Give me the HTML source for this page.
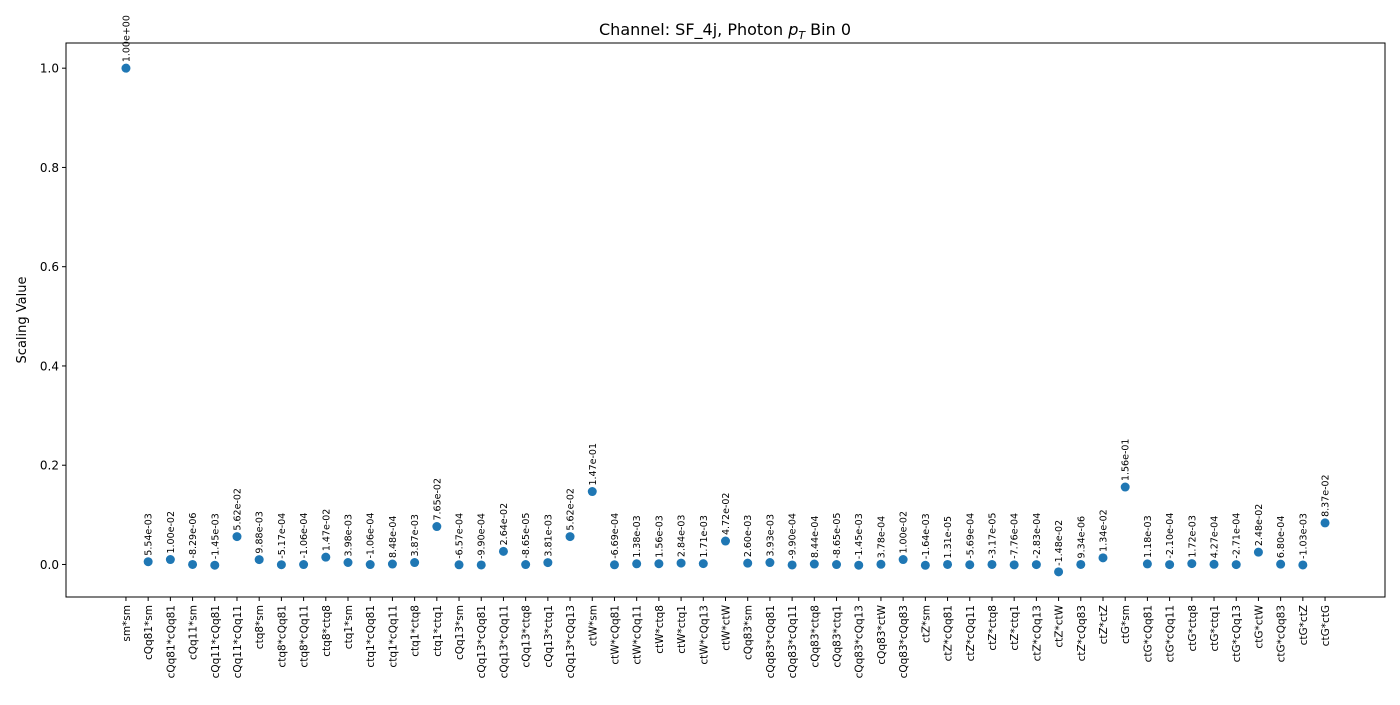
<!DOCTYPE html>
<html><head><meta charset="utf-8"><style>
body{margin:0;background:#fff;font-family:"Liberation Sans","DejaVu Sans",sans-serif;}
svg text{font-family:"DejaVu Sans","Liberation Sans",sans-serif;}
</style></head><body>
<svg id="chart" width="1400" height="700">
<rect width="1400" height="700" fill="#fff"/>
<text x="725" y="35" font-size="16" text-anchor="middle">Channel: SF_4j, Photon <tspan font-style="italic">p</tspan><tspan font-size="11" dy="4" font-style="italic">T</tspan><tspan dy="-4"> Bin 0</tspan></text>
<g id="yaxis"></g><g id="xaxis"></g><g id="points"></g>
<rect x="66" y="43" width="1319" height="554" fill="none" stroke="#000" stroke-width="1"/>
<text transform="translate(26,320) rotate(-90)" font-size="13" text-anchor="middle">Scaling Value</text>
</svg>
<script>
const categories=["sm*sm","cQq81*sm","cQq81*cQq81","cQq11*sm","cQq11*cQq81","cQq11*cQq11","ctq8*sm","ctq8*cQq81","ctq8*cQq11","ctq8*ctq8","ctq1*sm","ctq1*cQq81","ctq1*cQq11","ctq1*ctq8","ctq1*ctq1","cQq13*sm","cQq13*cQq81","cQq13*cQq11","cQq13*ctq8","cQq13*ctq1","cQq13*cQq13","ctW*sm","ctW*cQq81","ctW*cQq11","ctW*ctq8","ctW*ctq1","ctW*cQq13","ctW*ctW","cQq83*sm","cQq83*cQq81","cQq83*cQq11","cQq83*ctq8","cQq83*ctq1","cQq83*cQq13","cQq83*ctW","cQq83*cQq83","ctZ*sm","ctZ*cQq81","ctZ*cQq11","ctZ*ctq8","ctZ*ctq1","ctZ*cQq13","ctZ*ctW","ctZ*cQq83","ctZ*ctZ","ctG*sm","ctG*cQq81","ctG*cQq11","ctG*ctq8","ctG*ctq1","ctG*cQq13","ctG*ctW","ctG*cQq83","ctG*ctZ","ctG*ctG"];
const values=[1.00e+00,5.54e-03,1.00e-02,-8.29e-06,-1.45e-03,5.62e-02,9.88e-03,-5.17e-04,-1.06e-04,1.47e-02,3.98e-03,-1.06e-04,8.48e-04,3.87e-03,7.65e-02,-6.57e-04,-9.90e-04,2.64e-02,-8.65e-05,3.81e-03,5.62e-02,1.47e-01,-6.69e-04,1.38e-03,1.56e-03,2.84e-03,1.71e-03,4.72e-02,2.60e-03,3.93e-03,-9.90e-04,8.44e-04,-8.65e-05,-1.45e-03,3.78e-04,1.00e-02,-1.64e-03,1.31e-05,-5.69e-04,-3.17e-05,-7.76e-04,-2.83e-04,-1.48e-02,9.34e-06,1.34e-02,1.56e-01,1.18e-03,-2.10e-04,1.72e-03,4.27e-04,-2.71e-04,2.48e-02,6.80e-04,-1.03e-03,8.37e-02];
const yTicks=[0.0,0.2,0.4,0.6,0.8,1.0];
const NS="http://www.w3.org/2000/svg";
const L=66,R=1385,T=43,B=597;
const n=categories.length;
const xmin=-0.05*(n-1),xmax=(n-1)*1.05;
const vmin=Math.min(...values),vmax=Math.max(...values),pad=(vmax-vmin)*0.05;
const ymin=vmin-pad,ymax=vmax+pad;
const xs=i=>L+(i-xmin)/(xmax-xmin)*(R-L);
const ys=v=>T+(ymax-v)/(ymax-ymin)*(B-T);
function mk(tag,attrs,parent){const e=document.createElementNS(NS,tag);for(const k in attrs)e.setAttribute(k,attrs[k]);parent.appendChild(e);return e;}
const ya=document.getElementById('yaxis'),xa=document.getElementById('xaxis'),pg=document.getElementById('points');
yTicks.forEach(t=>{const y=ys(t);
const l=mk('line',{x1:L-4,x2:L,y1:y,y2:y,stroke:'#000'},ya);


const tx=mk('text',{x:L-7,y:y+4.5,'font-size':12,'text-anchor':'end'},ya);tx.textContent=t.toFixed(1);

});
categories.forEach((c,i)=>{const x=xs(i);
const l=mk('line',{x1:x,x2:x,y1:B,y2:B+4,stroke:'#000'},xa);


const tx=mk('text',{transform:`translate(${x+4},${B+8}) rotate(-90)`,'font-size':10.5,'text-anchor':'end'},xa);tx.textContent=c;


const v=values[i],y=ys(v);
const p=mk('circle',{cx:x,cy:y,r:4.5,fill:'#1f77b4'},pg);


const lb=mk('text',{transform:`translate(${x+3.5},${y-6}) rotate(-90)`,'font-size':9.5},pg);
lb.textContent=v.toExponential(2).replace(/e([+-])(\d)$/,'e$10$2');

});
</script>
</body></html>
